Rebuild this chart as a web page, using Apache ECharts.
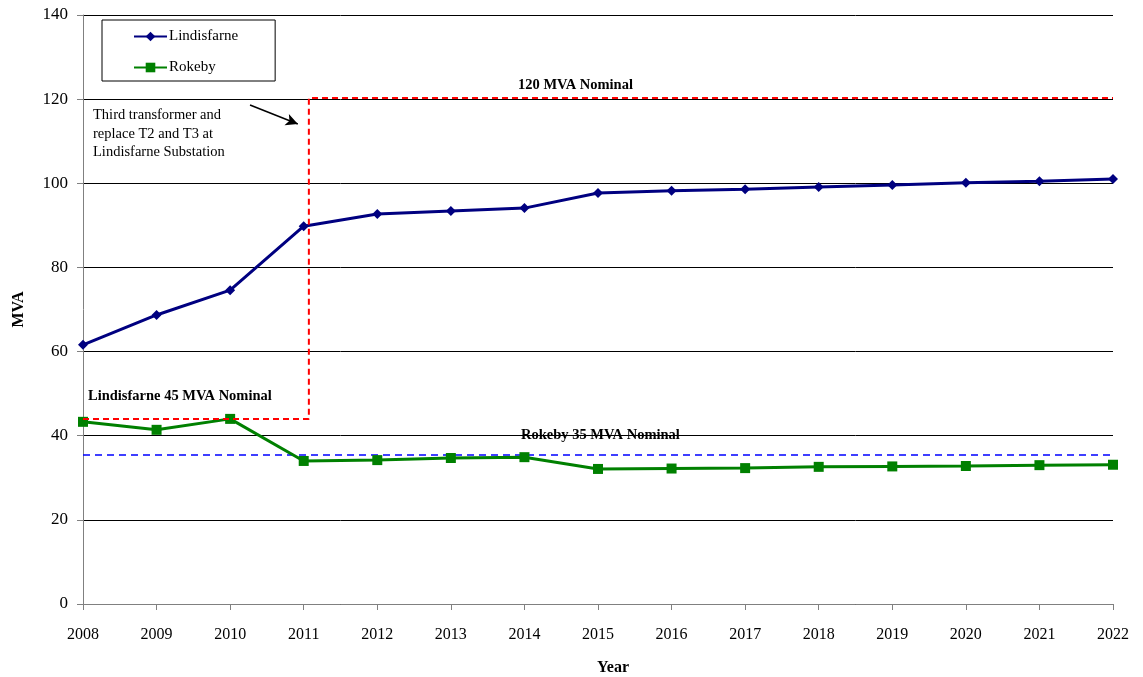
<!DOCTYPE html>
<html>
<head>
<meta charset="utf-8">
<script src="https://cdn.jsdelivr.net/npm/echarts@6/dist/echarts.min.js"></script>
<style>
  html, body { margin: 0; padding: 0; background: #fff; }
  #chart { width: 1143px; height: 677px; }
</style>
</head>
<body>
<div id="chart"></div>
<script>
const years = [2008, 2009, 2010, 2011, 2012, 2013, 2014, 2015, 2016, 2017, 2018, 2019, 2020, 2021, 2022];
const lindisfarne = [61.6, 68.7, 74.6, 89.8, 92.7, 93.4, 94.1, 97.7, 98.2, 98.6, 99.1, 99.6, 100.1, 100.5, 101.0];
const rokeby = [43.3, 41.4, 44.0, 34.0, 34.2, 34.7, 34.9, 32.1, 32.2, 32.3, 32.6, 32.7, 32.8, 33.0, 33.1];
// rating step for Lindisfarne (45 -> 120 MVA after third transformer)
const lindRating = [[2008, 44.0], [2011.07, 44.0], [2011.07, 120.3], [2022, 120.3]];
const rokebyRating = [[2008, 35.4], [2022, 35.4]];
const arrowFrom = [2010.27, 118.6];
const arrowTo = [2010.92, 114.1];

const font = 'Liberation Serif';
const chart = echarts.init(document.getElementById('chart'));

const option = {
  animation: false,
  grid: { left: 83, right: 30, top: 15, bottom: 73, outerBoundsMode: 'none' },
  legend: {
    data: ['Lindisfarne', 'Rokeby'],
    orient: 'vertical',
    left: 102,
    top: 20,
    padding: [9, 37, 6, 31],
    itemGap: 16,
    itemWidth: 33,
    itemHeight: 12,
    borderColor: '#000',
    borderWidth: 1,
    textStyle: { fontFamily: font, fontSize: 15, color: '#000', padding: [0, 0, 0, -3] }
  },
  xAxis: {
    type: 'value',
    min: 2008,
    max: 2022,
    interval: 1,
    name: 'Year',
    nameLocation: 'middle',
    nameGap: 56,
    nameTextStyle: { fontFamily: font, fontSize: 16, fontWeight: 'bold', color: '#000', padding: [0, 0, 0, 30] },
    axisLine: { lineStyle: { color: '#808080', width: 1 } },
    axisTick: { show: true, length: 6, lineStyle: { color: '#808080' } },
    axisLabel: { fontFamily: font, fontSize: 16, color: '#000', margin: 23, formatter: v => String(v) },
    splitLine: { show: false }
  },
  yAxis: {
    type: 'value',
    min: 0,
    max: 140,
    interval: 20,
    name: 'MVA',
    nameLocation: 'middle',
    nameGap: 56,
    nameTextStyle: { fontFamily: font, fontSize: 16, fontWeight: 'bold', color: '#000' },
    axisLine: { show: true, lineStyle: { color: '#808080', width: 1 } },
    axisTick: { show: true, length: 6, lineStyle: { color: '#808080' } },
    axisLabel: { fontFamily: font, fontSize: 17, color: '#000', margin: 15 },
    splitLine: { show: true, lineStyle: { color: '#000', width: 1 } }
  },
  series: [
    {
      name: 'Rokeby rating',
      type: 'line',
      data: rokebyRating,
      symbol: 'none',
      lineStyle: { color: '#0000ff', width: 1.5, type: [7, 5] },
      z: 1,
      markLine: {
        silent: true,
        symbol: ['none', 'arrow'],
        symbolSize: [9, 12],
        label: { show: false },
        lineStyle: { color: '#000', width: 1.5, type: 'solid' },
        data: [[{ coord: arrowFrom }, { coord: arrowTo }]]
      }
    },
    {
      name: 'Lindisfarne',
      type: 'line',
      data: years.map((y, i) => [y, lindisfarne[i]]),
      symbol: 'diamond',
      symbolSize: 10,
      itemStyle: { color: '#000080' },
      lineStyle: { color: '#000080', width: 3 },
      z: 3
    },
    {
      name: 'Rokeby',
      type: 'line',
      data: years.map((y, i) => [y, rokeby[i]]),
      symbol: 'rect',
      symbolSize: 10,
      itemStyle: { color: '#008000' },
      lineStyle: { color: '#008000', width: 3 },
      z: 3
    },
    {
      name: 'Lindisfarne rating',
      type: 'line',
      data: lindRating,
      symbol: 'none',
      lineStyle: { color: '#ff0000', width: 2, type: [6, 4] },
      z: 4
    }
  ],
  graphic: [
    {
      type: 'text', left: 518, top: 78,
      style: { text: '120 MVA Nominal', fontFamily: font, fontSize: 14.5, fontWeight: 'bold', fill: '#000' }
    },
    {
      type: 'text', left: 88, top: 389,
      style: { text: 'Lindisfarne 45 MVA Nominal', fontFamily: font, fontSize: 14.5, fontWeight: 'bold', fill: '#000' }
    },
    {
      type: 'text', left: 521, top: 428,
      style: { text: 'Rokeby 35 MVA Nominal', fontFamily: font, fontSize: 14.5, fontWeight: 'bold', fill: '#000' }
    },
    {
      type: 'text', left: 93, top: 106,
      style: {
        text: 'Third transformer and\nreplace T2 and T3 at\nLindisfarne Substation',
        fontFamily: font, fontSize: 14.5, lineHeight: 18.5, fill: '#000'
      }
    }
  ]
};

chart.setOption(option);
</script>
</body>
</html>
